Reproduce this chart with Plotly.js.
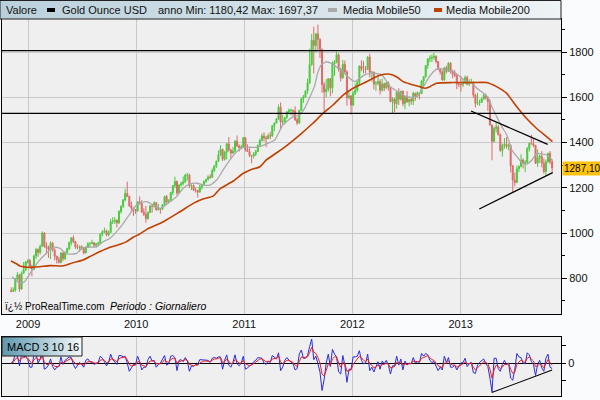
<!DOCTYPE html>
<html><head><meta charset="utf-8">
<script src="https://cdn.plot.ly/plotly-3.0.1.min.js"></script>
<style>html,body{margin:0;padding:0;background:#fafbfc}#chart{width:600px;height:400px}</style>
</head><body><div id="chart"></div>
<script>
// ---------- DATA (weekly candles) ----------
const firstWeek = '2008-11-05';
const open = [745,742,748,797,815,752,822,838,
872,878,853,840,898,927,914,942,1000,942,937,929,955,924,897,883,870,912,887,914,930,958,979,962,938,936,940,930,912,937,952,954,957,946,952,955,995,1006,1010,991,1003,1050,1052,1056,1045,1095,1118,1146,1175,1162,1120,1110,
1104,1097,1138,1130,1092,1083,1064,1091,1119,1118,1134,1103,1107,1105,1126,1161,1137,1142,1179,1209,1228,1177,1212,1219,1226,1256,1256,1208,1210,1190,1189,1181,1204,1215,1228,1237,1248,1246,1276,1297,1317,1346,1370,1326,1358,1394,1367,1353,1363,1406,1385,1378,1380,
1421,1369,1360,1343,1341,1349,1360,1388,1409,1429,1421,1417,1430,1429,1474,1486,1504,1556,1491,1493,1510,1536,1542,1543,1539,1501,1486,1542,1594,1601,1628,1663,1744,1852,1829,1880,1856,1812,1656,1624,1636,1682,1642,1747,1756,1788,1724,1686,1746,1712,1598,1606,
1566,1617,1631,1665,1738,1726,1725,1724,1777,1711,1712,1659,1662,1669,1631,1659,1642,1663,1644,1581,1592,1572,1622,1591,1627,1572,1604,1580,1590,1583,1618,1605,1620,1616,1672,1691,1740,1769,1773,1776,1781,1758,1724,1712,1677,1730,1714,1751,1712,1702,1696,1658,
1657,1656,1662,1687,1658,1667,1667,1610,1573,1576,1577,1592,1608,1597,1581,1477,1405,1462,1469,1436,1365,1386,1392,1383,1387,1297,1234,1223,1284,1295,1322,1310,1312,1373,1396,1395,1387,1308,1333,1339,1309,1272,1315,1352,1315];
const high = [760,760,802,827,820,830,872,876,
884,885,860,905,935,932,948,1007,1003,958,944,963,961,932,900,895,915,915,918,935,962,980,990,965,950,946,945,935,942,960,960,970,960,955,962,998,1012,1024,1015,1010,1062,1070,1070,1060,1101,1122,1150,1195,1227,1165,1140,1112,
1105,1140,1162,1145,1110,1120,1095,1125,1125,1140,1137,1128,1110,1128,1165,1168,1150,1182,1212,1249,1232,1215,1228,1250,1262,1266,1262,1215,1215,1200,1190,1212,1216,1232,1240,1255,1260,1285,1300,1320,1365,1388,1372,1362,1398,1424,1372,1380,1410,1431,1392,1390,1424,
1424,1392,1375,1345,1358,1368,1390,1417,1440,1445,1430,1440,1447,1476,1488,1508,1568,1577,1522,1512,1538,1550,1550,1545,1560,1510,1545,1595,1610,1630,1682,1815,1880,1912,1885,1921,1860,1815,1668,1680,1684,1685,1760,1765,1803,1795,1730,1765,1763,1720,1625,1610,
1627,1660,1672,1740,1764,1760,1738,1782,1792,1715,1712,1672,1700,1680,1682,1665,1668,1670,1646,1600,1597,1627,1640,1628,1630,1605,1627,1595,1600,1625,1620,1625,1622,1675,1692,1742,1772,1785,1790,1796,1785,1760,1730,1720,1734,1740,1754,1755,1722,1720,1700,1665,
1694,1680,1696,1695,1680,1682,1671,1615,1620,1590,1598,1616,1616,1605,1590,1480,1470,1488,1477,1440,1395,1420,1424,1395,1392,1300,1267,1298,1298,1348,1330,1322,1380,1400,1434,1415,1390,1370,1345,1362,1330,1325,1355,1362,1325];
const low = [738,740,740,790,740,750,820,832,
865,845,808,835,885,895,905,940,935,905,890,885,918,880,865,865,866,875,880,910,925,945,955,930,928,917,925,906,910,935,938,952,937,935,940,952,985,1000,985,985,1000,1040,1040,1025,1040,1085,1110,1140,1160,1115,1095,1075,
1085,1095,1125,1090,1075,1045,1058,1088,1090,1112,1098,1100,1085,1102,1120,1130,1132,1140,1168,1200,1167,1175,1205,1210,1222,1232,1200,1190,1185,1178,1157,1178,1192,1212,1222,1232,1240,1244,1270,1288,1315,1340,1318,1320,1325,1360,1330,1350,1355,1380,1360,1370,1378,
1360,1360,1336,1308,1330,1340,1358,1385,1405,1405,1380,1415,1415,1425,1450,1485,1500,1462,1478,1480,1505,1525,1520,1510,1495,1478,1483,1540,1575,1598,1615,1660,1740,1705,1800,1810,1773,1620,1535,1600,1625,1604,1617,1695,1750,1713,1670,1682,1705,1563,1590,1523,
1562,1610,1625,1655,1715,1705,1705,1720,1688,1670,1635,1628,1652,1612,1625,1627,1636,1630,1577,1527,1534,1550,1566,1585,1560,1547,1575,1560,1567,1565,1585,1598,1590,1615,1650,1686,1725,1755,1755,1765,1750,1720,1700,1673,1672,1705,1712,1705,1684,1690,1636,1645,
1625,1645,1660,1653,1650,1660,1598,1555,1565,1562,1575,1590,1590,1540,1475,1321,1400,1445,1430,1359,1338,1373,1373,1366,1268,1180,1207,1222,1270,1290,1285,1270,1310,1360,1390,1380,1305,1292,1310,1290,1262,1251,1310,1305,1267];
const close = [742,748,797,815,752,822,838,872,
878,853,840,898,927,914,942,1000,942,937,929,955,924,897,883,870,912,887,914,930,958,979,962,938,936,940,930,912,937,952,954,957,946,952,955,995,1006,1010,991,1003,1050,1052,1056,1045,1095,1118,1146,1175,1162,1120,1110,1104,
1097,1138,1130,1092,1083,1064,1091,1119,1118,1134,1103,1107,1105,1126,1161,1137,1142,1179,1209,1228,1177,1212,1219,1226,1256,1256,1208,1210,1190,1189,1181,1204,1215,1228,1237,1248,1246,1276,1297,1317,1346,1370,1326,1358,1394,1367,1353,1363,1406,1385,1378,1380,1421,
1369,1360,1343,1341,1349,1360,1388,1409,1429,1421,1417,1430,1429,1474,1486,1504,1556,1491,1493,1510,1536,1542,1543,1539,1501,1486,1542,1594,1601,1628,1663,1744,1852,1829,1880,1856,1812,1656,1624,1636,1682,1642,1747,1756,1788,1724,1686,1746,1712,1598,1606,1566,
1617,1631,1665,1738,1726,1725,1724,1777,1711,1712,1659,1662,1669,1631,1659,1642,1663,1644,1581,1592,1572,1622,1591,1627,1572,1604,1580,1590,1583,1618,1605,1620,1616,1672,1691,1740,1769,1773,1776,1781,1758,1724,1712,1677,1730,1714,1751,1712,1702,1696,1658,1657,
1656,1662,1687,1658,1667,1667,1610,1573,1576,1577,1592,1608,1597,1581,1477,1405,1462,1469,1436,1365,1386,1392,1383,1387,1297,1234,1223,1284,1295,1322,1310,1312,1373,1396,1395,1387,1308,1333,1339,1309,1272,1315,1352,1315,1287.1];

// MACD 3 10 16 (blue) and signal (red), weekly readings
const macd = [0,3,13,10,-4,12,9,10,
5,-6,-6,13,13,0,6,17,-9,-7,-3,6,-5,-10,-6,-5,9,-2,4,7,9,8,-2,-8,-3,1,-2,-6,4,6,2,1,-2,0,1,10,7,2,-4,1,13,5,1,-2,11,11,9,10,0,-12,-7,-2,
-2,10,2,-10,-6,-6,5,10,3,4,-6,-2,0,5,11,-3,-1,10,11,8,-11,4,5,2,8,3,-12,-4,-5,-2,-2,5,5,4,4,4,1,7,8,7,9,9,-9,4,12,-3,-6,1,12,-1,-4,0,10,
-9,-7,-5,-2,2,4,8,8,7,0,-2,3,1,11,8,6,15,-11,-6,4,8,4,1,-1,-10,-8,13,19,7,7,11,24,35,5,10,-1,-13,-40,-24,0,13,-5,20,13,9,-13,-16,11,-3,-28,-9,-9,
9,9,10,18,4,-1,0,13,-11,-6,-13,-5,2,-9,3,-1,4,-3,-16,-4,-4,10,-3,6,-10,3,-3,0,-1,8,0,2,1,14,10,14,12,4,1,2,-5,-11,-6,-10,10,1,8,-6,-6,-3,-10,-4,
0,1,7,-5,-1,1,-14,-15,-3,1,4,6,-1,-5,-22,-42,7,7,-8,-12,-2,4,-2,0,-22,-25,-9,14,9,8,0,-1,15,12,2,-2,-18,-2,4,-7,-12,7,13,-6,-8];
const signal = [0,1,6,8,3,7,8,9,
7,2,-1,5,8,5,5,10,2,-2,-2,1,-1,-5,-5,-5,1,0,2,4,6,7,3,-1,-2,-1,-1,-3,0,2,2,2,0,0,0,4,5,4,1,1,6,6,4,2,6,8,8,9,5,-2,-4,-3,
-3,2,2,-3,-4,-5,-1,3,3,3,-1,-1,-1,1,5,2,1,5,7,7,0,2,3,3,5,4,-2,-3,-4,-3,-3,0,2,3,3,3,2,4,6,6,7,8,1,2,6,2,-1,0,5,3,0,0,4,
-1,-3,-4,-3,-1,1,4,6,6,4,2,2,2,6,7,7,10,2,-1,1,4,4,3,1,-3,-5,2,9,8,8,9,15,23,16,14,8,0,-16,-19,-11,-1,-3,6,9,9,0,-6,1,-1,-12,-11,-10,
-2,2,5,10,8,4,2,6,-1,-3,-7,-6,-3,-5,-2,-2,0,-1,-7,-6,-5,1,-1,2,-3,-1,-2,-1,-1,3,2,2,2,7,8,10,11,8,5,4,0,-4,-5,-7,0,0,3,-1,-3,-3,-6,-5,
-3,-1,2,-1,-1,0,-6,-10,-7,-4,-1,2,1,-1,-9,-22,-10,-3,-5,-8,-6,-2,-2,-1,-9,-15,-13,-2,2,4,2,1,7,9,6,3,-5,-4,-1,-3,-7,-1,5,1,-3];

// Moving averages
const ma50Dates = ['2008-11-08','2008-12-05','2008-12-20','2009-01-19','2009-02-10','2009-02-20','2009-03-27','2009-04-19','2009-05-11','2009-05-28','2009-06-14','2009-07-01','2009-07-18','2009-08-21','2009-09-12','2009-10-05','2009-10-27','2009-11-19','2009-12-11','2010-01-08','2010-02-06','2010-02-28','2010-03-23','2010-04-03','2010-04-26','2010-05-18','2010-06-09','2010-07-02','2010-07-25','2010-08-16','2010-09-07','2010-09-30','2010-10-22','2010-11-14','2010-12-07','2010-12-29','2011-01-21','2011-02-13','2011-03-10','2011-04-14','2011-05-12','2011-06-15','2011-07-07','2011-07-24','2011-08-09','2011-08-26','2011-09-06','2011-09-18','2011-10-06','2011-10-22','2011-11-08','2011-11-30','2011-12-23','2012-01-09','2012-01-26','2012-02-12','2012-03-01','2012-03-20','2012-04-10','2012-04-27','2012-05-08','2012-05-25','2012-06-11','2012-07-03','2012-07-26','2012-08-11','2012-08-28','2012-09-14','2012-10-01','2012-10-18','2012-11-10','2012-12-08','2012-12-30','2013-01-22','2013-02-08','2013-02-25','2013-03-19','2013-04-05','2013-04-16','2013-05-03','2013-05-20','2013-06-06','2013-06-23','2013-07-10','2013-07-27','2013-08-13','2013-08-30','2013-09-15','2013-10-02','2013-10-19','2013-11-06'];
const ma50 = [807,778,785,844,881,895,937,932,907,907,910,932,937,940,962,977,1006,1043,1085,1131,1139,1124,1109,1116,1139,1161,1198,1217,1220,1212,1212,1234,1279,1323,1360,1379,1379,1379,1390,1411,1478,1514,1522,1551,1596,1647,1706,1743,1757,1750,1735,1713,1684,1669,1684,1699,1706,1706,1699,1669,1647,1632,1618,1603,1600,1610,1647,1684,1713,1728,1721,1713,1691,1669,1662,1640,1618,1596,1559,1514,1470,1433,1367,1338,1311,1305,1323,1352,1349,1345,1323];
const ma200Dates = ['2008-11-04','2008-11-24','2008-12-05','2009-01-07','2009-02-10','2009-03-16','2009-04-24','2009-05-11','2009-06-02','2009-07-06','2009-07-29','2009-09-01','2009-10-05','2009-11-08','2009-11-30','2009-12-22','2010-01-14','2010-02-06','2010-04-03','2010-05-29','2010-07-13','2010-08-10','2010-09-19','2010-10-11','2010-11-25','2010-12-29','2011-01-21','2011-02-23','2011-03-17','2011-05-12','2011-07-07','2011-08-21','2011-09-24','2011-10-28','2011-12-01','2012-01-04','2012-02-18','2012-04-03','2012-05-07','2012-05-29','2012-06-21','2012-07-13','2012-08-16','2012-09-02','2012-09-19','2012-10-11','2012-12-06','2013-02-01','2013-03-29','2013-05-02','2013-06-05','2013-07-09','2013-08-11','2013-09-14','2013-10-18','2013-11-07'];
const ma200 = [876,863,854,848,851,856,854,859,869,881,896,918,937,950,962,981,996,1016,1050,1094,1131,1148,1164,1195,1230,1264,1279,1293,1323,1374,1433,1485,1529,1566,1610,1640,1669,1697,1702,1691,1669,1659,1647,1640,1647,1662,1665,1665,1665,1647,1618,1559,1507,1463,1426,1404];

// Drawn levels and trend lines
const levels = [1806, 1529];
const upperTrendDates = ['2013-02-05','2013-10-22'], upperTrend = [1539, 1392];
const lowerTrendDates = ['2013-03-05','2013-11-08'], lowerTrend = [1106, 1267];
const macdTrendDates = ['2013-04-16','2013-11-06'], macdTrend = [-43, -10];

const yearTicks = ['2009-01-01','2010-01-01','2011-01-01','2012-01-01','2013-01-01'];
const yearLabels = ['2009','2010','2011','2012','2013'];
const priceTicks = [800,1000,1200,1400,1600,1800];
const priceMinorTicks = [700,900,1100,1300,1500,1700,1900];
const lastPriceText = '1287,10';
const lastPrice = 1287.1;
const legendTexts = ['Valore', 'Gold Ounce USD', 'anno Min: 1180,42 Max: 1697,37', 'Media Mobile50', 'Media Mobile200'];
const macdTitle = 'MACD 3 10 16';

// ---------- BUILD ----------
[open, high, low, macd, signal].forEach((a, i) => { if (a.length !== close.length) throw new Error('length mismatch ' + i + ': ' + a.length + ' vs ' + close.length); });
if (ma50.length !== ma50Dates.length || ma200.length !== ma200Dates.length) throw new Error('MA length mismatch');

function addDays(iso, n) { const d = new Date(iso + 'T00:00:00Z'); d.setUTCDate(d.getUTCDate() + n); return d.toISOString().slice(0, 10); }
const dates = close.map((_, i) => addDays(firstWeek, 7 * i));

const GREEN = '#48cc3a', RED = '#e0696a';
const W = 600, H = 400;
const px = x => x / W, py = y => 1 - y / H;

function grad(c1, c2) {
  const svg = "<svg xmlns='http://www.w3.org/2000/svg' width='200' height='20' viewBox='0 0 200 20' preserveAspectRatio='none'><defs><linearGradient id='g' x1='0' y1='0' x2='1' y2='0'><stop offset='0' stop-color='" + c1 + "'/><stop offset='1' stop-color='" + c2 + "'/></linearGradient></defs><rect width='200' height='20' fill='url(#g)'/></svg>";
  return 'data:image/svg+xml;charset=utf-8,' + encodeURIComponent(svg);
}

const traces = [
  { type: 'candlestick', x: dates, open: open, high: high, low: low, close: close,
    increasing: { line: { color: GREEN, width: 1 }, fillcolor: GREEN },
    decreasing: { line: { color: RED, width: 1 }, fillcolor: RED },
    whiskerwidth: 0, xaxis: 'x', yaxis: 'y', hoverinfo: 'skip' },
  { type: 'scatter', mode: 'lines', x: ma50Dates, y: ma50, line: { color: '#a9a9a9', width: 1.3, shape: 'spline', smoothing: 0.6 }, xaxis: 'x', yaxis: 'y', hoverinfo: 'skip' },
  { type: 'scatter', mode: 'lines', x: ma200Dates, y: ma200, line: { color: '#c04000', width: 1.6, shape: 'spline', smoothing: 0.6 }, xaxis: 'x', yaxis: 'y', hoverinfo: 'skip' },
  { type: 'scatter', mode: 'lines', x: upperTrendDates, y: upperTrend, line: { color: '#000', width: 1.2 }, xaxis: 'x', yaxis: 'y', hoverinfo: 'skip' },
  { type: 'scatter', mode: 'lines', x: lowerTrendDates, y: lowerTrend, line: { color: '#000', width: 1.2 }, xaxis: 'x', yaxis: 'y', hoverinfo: 'skip' },
  { type: 'scatter', mode: 'lines', x: dates, y: macd, line: { color: '#2a2ae6', width: 1 }, xaxis: 'x2', yaxis: 'y2', hoverinfo: 'skip' },
  { type: 'scatter', mode: 'lines', x: dates, y: signal, line: { color: '#ee2020', width: 1 }, xaxis: 'x2', yaxis: 'y2', hoverinfo: 'skip' },
  { type: 'scatter', mode: 'lines', x: macdTrendDates, y: macdTrend, line: { color: '#000', width: 1.1 }, xaxis: 'x2', yaxis: 'y2', hoverinfo: 'skip' }
];

const xDomain = [px(2), px(561)];
const xRange = ['2008-10-05', '2013-12-06'];
const FONT = 'Liberation Sans, Arial, sans-serif';

const shapes = levels.map(v => ({ type: 'line', xref: 'x domain', yref: 'y', x0: 0, x1: 1, y0: v, y1: v, line: { color: '#000', width: 1.3 } }));
// legend bar border and swatches
shapes.push({ type: 'rect', xref: 'paper', yref: 'paper', x0: 0, x1: px(561), y0: py(19), y1: py(0.5), line: { color: '#222', width: 1 }, fillcolor: 'rgba(0,0,0,0)' });
shapes.push({ type: 'rect', xref: 'paper', yref: 'paper', x0: px(47), x1: px(55), y0: py(12), y1: py(8), line: { width: 0 }, fillcolor: '#000' });
shapes.push({ type: 'rect', xref: 'paper', yref: 'paper', x0: px(328), x1: px(337), y0: py(12), y1: py(8), line: { width: 0 }, fillcolor: '#aaaaaa' });
shapes.push({ type: 'rect', xref: 'paper', yref: 'paper', x0: px(434), x1: px(442), y0: py(12), y1: py(8), line: { width: 0 }, fillcolor: '#c04000' });
// MACD label box border
shapes.push({ type: 'rect', xref: 'paper', yref: 'paper', x0: px(2), x1: px(82), y0: py(356), y1: py(337), line: { color: '#222', width: 1 }, fillcolor: 'rgba(0,0,0,0)' });

const ann = (x, y, text, extra) => Object.assign({ xref: 'paper', yref: 'paper', x: px(x), y: py(y), text: text, showarrow: false, xanchor: 'left', yanchor: 'middle', font: { family: FONT, size: 11, color: '#111' } }, extra || {});
const annotations = [
  ann(4, 10, legendTexts[0]),
  ann(60, 10, legendTexts[1]),
  ann(156, 10, legendTexts[2]),
  ann(341, 10, legendTexts[3]),
  ann(444, 10, legendTexts[4]),
  ann(5, 347, macdTitle, { font: { family: FONT, size: 11, color: '#000' } }),
  ann(3, 306, 'ï¿½ ProRealTime.com', { font: { family: FONT, size: 10, color: '#000' } }),
  ann(108, 306, '<i>Periodo : Giornaliero</i>', { font: { family: FONT, size: 10.5, color: '#000' } }),
  { xref: 'paper', yref: 'y', x: px(562), y: lastPrice, text: lastPriceText, showarrow: false, xanchor: 'left', yanchor: 'middle', bgcolor: '#ffc20e', borderpad: 1, font: { family: FONT, size: 10, color: '#000' } }
];

const layout = {
  width: W, height: H, margin: { l: 0, r: 0, t: 0, b: 0 },
  paper_bgcolor: '#fafbfc', plot_bgcolor: '#efefef', showlegend: false,
  font: { family: FONT, size: 11, color: '#111' },
  xaxis: { type: 'date', domain: xDomain, anchor: 'y', range: xRange, tickvals: yearTicks, ticktext: yearLabels,
    showgrid: true, gridcolor: '#c9c9c9', gridwidth: 1, ticks: '', showline: true, mirror: true, linecolor: '#000', linewidth: 1,
    zeroline: false, rangeslider: { visible: false }, fixedrange: true, tickfont: { size: 11, color: '#111' } },
  yaxis: { domain: [py(314), py(19)], anchor: 'x', range: [642, 1946], side: 'right', tickvals: priceTicks,
    showgrid: true, gridcolor: '#c9c9c9', ticks: 'outside', ticklen: 5, tickcolor: '#000',
    minor: { tickvals: priceMinorTicks, ticks: 'outside', ticklen: 3, tickcolor: '#000', showgrid: false },
    showline: true, mirror: true, linecolor: '#000', zeroline: false, fixedrange: true, tickfont: { size: 11, color: '#111' } },
  xaxis2: { type: 'date', domain: xDomain, anchor: 'y2', range: xRange, tickvals: yearTicks, showticklabels: false,
    showgrid: true, gridcolor: '#c9c9c9', ticks: '', showline: true, mirror: true, linecolor: '#000', zeroline: false, fixedrange: true },
  yaxis2: { domain: [py(396), py(337)], anchor: 'x2', range: [-48, 38], side: 'right', tickvals: [-25, 0, 25], ticktext: ['', '0', ''],
    ticks: 'outside', ticklen: 4, tickcolor: '#000', showgrid: false, zeroline: true, zerolinecolor: '#000', zerolinewidth: 1,
    showline: true, mirror: true, linecolor: '#000', fixedrange: true, tickfont: { size: 11, color: '#111' } },
  shapes: shapes,
  annotations: annotations,
  images: [
    { source: grad('#b9d0db', '#eef3f5'), xref: 'paper', yref: 'paper', x: 0, y: 1, sizex: px(561), sizey: 19 / H, sizing: 'stretch', xanchor: 'left', yanchor: 'top', layer: 'above' },
    { source: grad('#5d98ae', '#f4f8fa'), xref: 'paper', yref: 'paper', x: px(2), y: py(337), sizex: px(80), sizey: 19 / H, sizing: 'stretch', xanchor: 'left', yanchor: 'top', layer: 'above' }
  ]
};

Plotly.newPlot('chart', traces, layout, { displayModeBar: false, staticPlot: true });
</script>
</body></html>
